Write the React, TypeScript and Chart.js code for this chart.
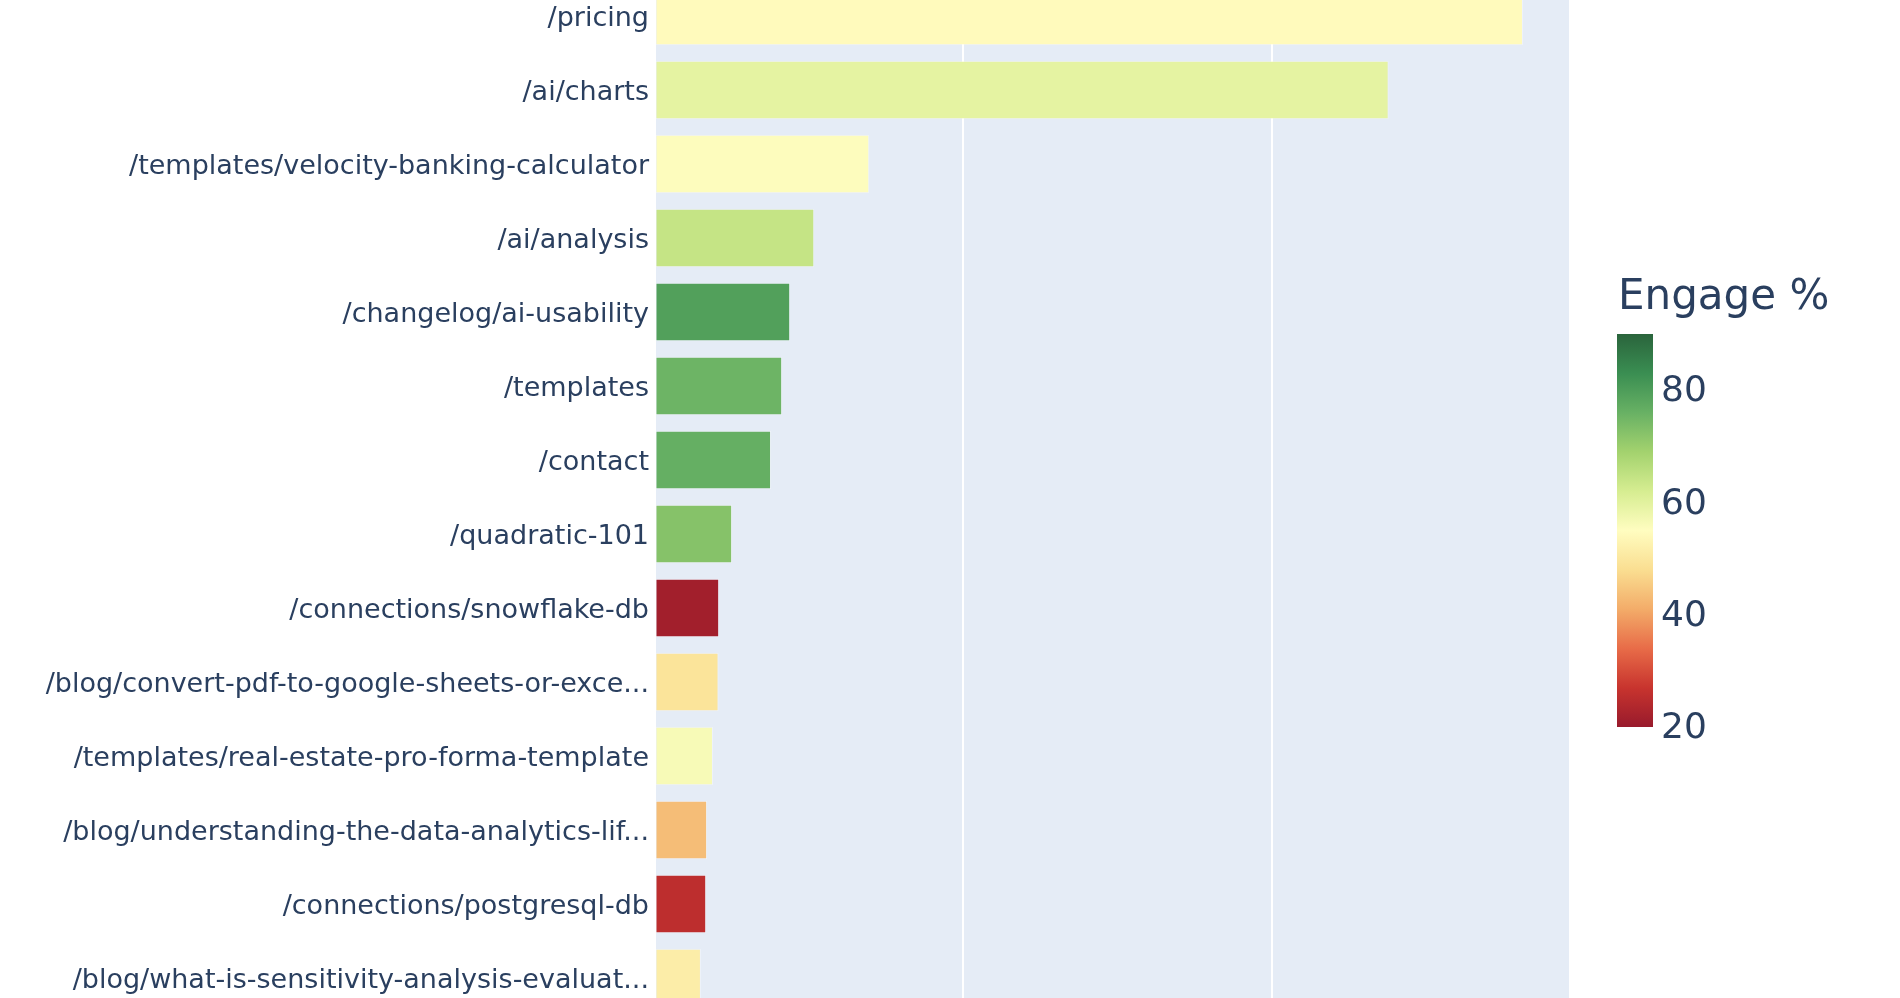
import React, { useEffect, useRef } from 'react';
import { Chart, registerables } from 'chart.js';

Chart.register(...registerables);

const pages = [
  '/pricing',
  '/ai/charts',
  '/templates/velocity-banking-calculator',
  '/ai/analysis',
  '/changelog/ai-usability',
  '/templates',
  '/contact',
  '/quadratic-101',
  '/connections/snowflake-db',
  '/blog/convert-pdf-to-google-sheets-or-exce...',
  '/templates/real-estate-pro-forma-template',
  '/blog/understanding-the-data-analytics-lif...',
  '/connections/postgresql-db',
  '/blog/what-is-sensitivity-analysis-evaluat...',
];
const views = [2814, 2379, 697, 519, 441, 415, 379, 253, 211, 209, 191, 172, 169, 152];
const engage = [54, 59, 55, 64, 79, 75, 76, 72, 21, 49, 56, 43, 25, 51];
const gridTicks = [0, 1000, 2000];
const colorbarTicks = [20, 40, 60, 80];
const engageMin = 19.6;
const engageMax = 89.6;
const viewsMax = 2963;

// RdYlGn, slightly muted like the screenshot
const colorStops: [number, number, number][] = [
  [152, 26, 44],
  [200, 52, 46],
  [232, 108, 72],
  [243, 172, 105],
  [250, 222, 145],
  [255, 253, 192],
  [214, 237, 145],
  [163, 210, 110],
  [104, 177, 100],
  [58, 142, 82],
  [42, 100, 60],
];

const TEXT = '#2a3f5f';
const FONT = '"DejaVu Sans", Verdana, sans-serif';
const OFFSET_TOP = 21;

function colorAt(t: number) {
  const c = Math.max(0, Math.min(1, t)) * (colorStops.length - 1);
  const i = Math.min(Math.floor(c), colorStops.length - 2);
  const f = c - i;
  const a = colorStops[i];
  const b = colorStops[i + 1];
  const mix = (k: number) => Math.round(a[k] + (b[k] - a[k]) * f);
  return `rgb(${mix(0)},${mix(1)},${mix(2)})`;
}

const engageColor = (v: number) => colorAt((v - engageMin) / (engageMax - engageMin));

const plotBackground = {
  id: 'plotBackground',
  beforeDraw(chart: any) {
    const { ctx, chartArea } = chart;
    ctx.save();
    ctx.fillStyle = '#E5ECF6';
    ctx.fillRect(chartArea.left, chartArea.top, chartArea.right - chartArea.left, chartArea.bottom - chartArea.top);
    ctx.restore();
  },
};

const colorbar = {
  id: 'colorbar',
  afterDraw(chart: any) {
    const { ctx } = chart;
    const left = 1617;
    const width = 36;
    const top = 334 + OFFSET_TOP;
    const bottom = 727 + OFFSET_TOP;
    ctx.save();
    const grad = ctx.createLinearGradient(0, bottom, 0, top);
    colorStops.forEach((_, i) => {
      const t = i / (colorStops.length - 1);
      grad.addColorStop(t, colorAt(t));
    });
    ctx.fillStyle = grad;
    ctx.fillRect(left, top, width, bottom - top);

    ctx.fillStyle = TEXT;
    ctx.font = `36px ${FONT}`;
    ctx.textAlign = 'left';
    ctx.textBaseline = 'middle';
    colorbarTicks.forEach((v) => {
      const y = bottom - ((v - engageMin) / (engageMax - engageMin)) * (bottom - top);
      ctx.fillText(String(v), left + width + 8, y + 4);
    });

    ctx.font = `42px ${FONT}`;
    ctx.textBaseline = 'alphabetic';
    ctx.fillText('Engage %', 1618, 309 + OFFSET_TOP);
    ctx.restore();
  },
};

function PageChart() {
  const canvasRef = useRef<HTMLCanvasElement>(null);
  const chartRef = useRef<Chart | null>(null);

  useEffect(() => {
    if (!canvasRef.current) return;
    if (chartRef.current) chartRef.current.destroy();

    chartRef.current = new Chart(canvasRef.current, {
      type: 'bar',
      data: {
        labels: pages,
        datasets: [
          {
            data: views,
            backgroundColor: engage.map(engageColor),
            borderColor: 'rgba(255,255,255,0.35)',
            borderWidth: 1,
            borderSkipped: false,
            categoryPercentage: 1,
            barPercentage: 0.79,
          },
        ],
      },
      options: {
        indexAxis: 'y',
        animation: false,
        responsive: true,
        maintainAspectRatio: false,
        layout: { padding: { left: 0, right: 331, top: 0, bottom: 0 } },
        plugins: {
          legend: { display: false },
          tooltip: { enabled: false },
        },
        scales: {
          x: {
            min: 0,
            max: viewsMax,
            afterBuildTicks: (scale: any) => {
              scale.ticks = gridTicks.map((value) => ({ value }));
            },
            afterFit: (scale: any) => {
              scale.height = 0;
              scale.paddingLeft = 0;
              scale.paddingRight = 0;
            },
            ticks: { display: false },
            border: { display: false },
            grid: {
              color: '#ffffff',
              lineWidth: (c: any) => (c.tick && c.tick.value === 0 ? 3 : 2),
              drawTicks: false,
            },
          },
          y: {
            afterFit: (scale: any) => {
              scale.width = 654;
              scale.paddingTop = 0;
              scale.paddingBottom = 0;
            },
            border: { display: false },
            grid: { display: false, drawTicks: false },
            ticks: {
              autoSkip: false,
              padding: 5,
              labelOffset: 3,
              color: TEXT,
              font: { family: FONT, size: 27 },
            },
          },
        },
      } as any,
      plugins: [plotBackground, colorbar],
    });

    return () => {
      if (chartRef.current) {
        chartRef.current.destroy();
        chartRef.current = null;
      }
    };
  }, []);

  return (
    <div style={{ position: 'absolute', left: 0, top: -OFFSET_TOP, width: 1900, height: 1036 }}>
      <canvas ref={canvasRef}></canvas>
    </div>
  );
}

export default function App() {
  return (
    <div
      style={{
        position: 'fixed',
        left: 0,
        top: 0,
        width: 1900,
        height: 998,
        overflow: 'hidden',
        background: '#ffffff',
      }}
    >
      <PageChart />
    </div>
  );
}
